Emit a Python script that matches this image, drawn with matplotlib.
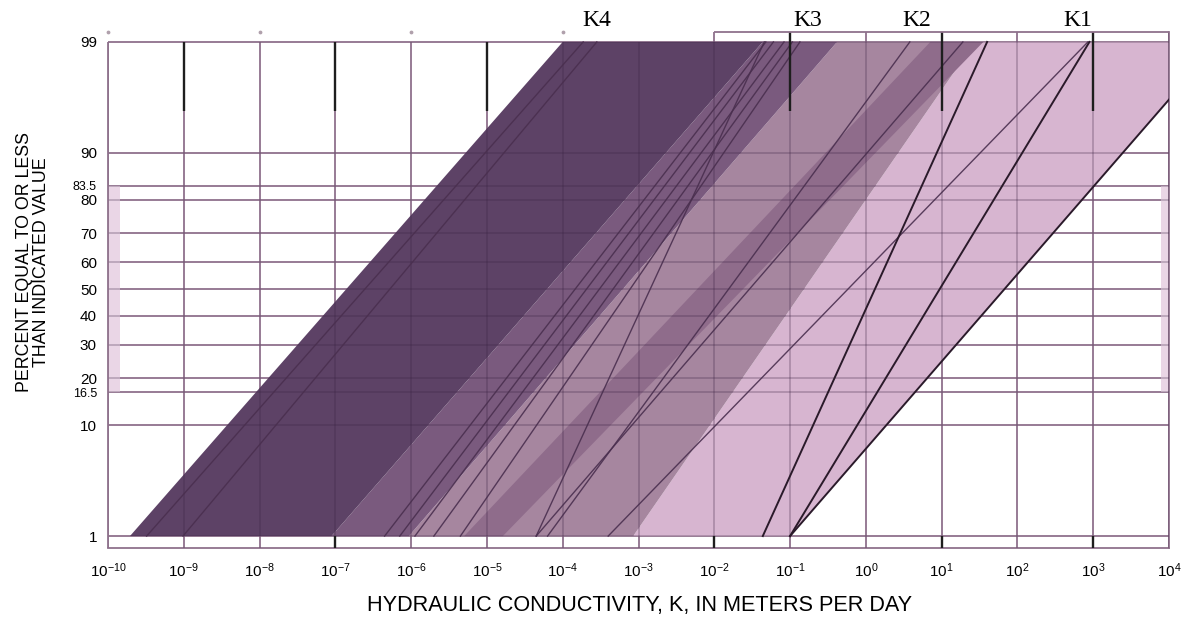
import numpy as np
import matplotlib
matplotlib.use("Agg")
from matplotlib import pyplot as plt
from matplotlib.ticker import FixedLocator, NullLocator, LogLocator
from matplotlib.transforms import blended_transform_factory
from statistics import NormalDist

plt.rcParams['font.family'] = ['Liberation Sans', 'DejaVu Sans']
plt.rcParams['mathtext.fontset'] = 'custom'
plt.rcParams['mathtext.rm'] = 'Liberation Sans'
plt.rcParams['mathtext.it'] = 'Liberation Sans:italic'
plt.rcParams['mathtext.bf'] = 'Liberation Sans:bold'

# ---- data ----
percent_ticks = [1, 10, 16.5, 20, 30, 40, 50, 60, 70, 80, 83.5, 90, 99]
percent_labels = ['1', '10', '16.5', '20', '30', '40', '50', '60', '70', '80', '83.5', '90', '99']
decades = list(range(-10, 5))

class_labels = ['K4', 'K3', 'K2', 'K1']
class_label_logk = [-3.55, -0.77, 0.67, 2.80]

# shaded zones, log10 K of the left / right edge at 1 % and at 99 %
zone_low_left = [-3.07, -6.03, -5.30, -7.05, -9.71]
zone_low_right = [-1.00, -3.07, -4.79, -6.03, -7.05]
zone_high_left = [1.44, -0.38, 0.85, -1.36, -4.00]
zone_high_right = [4.66, 1.44, 1.55, -0.38, -1.36]
zone_colors = ['#d7b5d0', '#a6869f', '#8f6c8b', '#7a5a7e', '#5d4266']

# sample distributions, log10 K at 1 % and at 99 %
sample_low = [-9.49, -9.01, -6.35, -6.15, -5.95, -5.70, -5.35, -4.35, -4.35, -4.20, -3.40]
sample_high = [-3.73, -3.55, -1.32, -1.22, -1.08, -0.97, -0.87, -1.34, 1.28, 0.58, 2.93]
# the darker (black) ones on the right
dark_low = [-1.36, -1.00, -1.00]
dark_high = [1.60, 2.95, 4.66]

# short black segments seen on some decade lines
top_mark_decades = [-9, -7, -5, -1, 1, 3]
bottom_mark_decades = [-7, -2, 1, 3]

# ---- normal probability scale ----
_nd = NormalDist()
_ppf = np.vectorize(lambda v: _nd.inv_cdf(v / 100.0), otypes=[float])
_cdf = np.vectorize(lambda v: 100.0 * _nd.cdf(v), otypes=[float])


def pct_to_z(p):
    p = np.clip(np.asarray(p, dtype=float), 1e-7, 100 - 1e-7)
    return _ppf(p)


def z_to_pct(z):
    return _cdf(np.asarray(z, dtype=float))


W, H = 1193, 618
fig = plt.figure(figsize=(W / 100, H / 100), dpi=100)
ax = fig.add_axes([108 / W, 1 - 548 / H, (1169 - 108) / W, (548 - 32) / H])
ax.set_xscale('log')
ax.set_yscale('function', functions=(pct_to_z, z_to_pct))
y_bot, y_top = 0.737, 99.224
ax.set_xlim(1e-10, 1e4)
ax.set_ylim(y_bot, y_top)

grid_col = '#b293ab'
over_col = '#3c2444'

# grid under the shading
ax.hlines(percent_ticks, 1e-10, 1e4, color=grid_col, lw=1.3, zorder=1)
for d in decades:
    top = 99 if d < -2 else y_top
    ax.vlines(10.0 ** d, y_bot, top, color=grid_col, lw=1.3, zorder=1)

# shaded zones
for i in range(len(zone_colors)):
    xs = 10.0 ** np.array([zone_low_left[i], zone_low_right[i], zone_high_right[i], zone_high_left[i]])
    ax.fill(xs, [1, 1, 99, 99], color=zone_colors[i], lw=0, zorder=2)

# pale strips at both edges
ax.fill(10.0 ** np.array([-10, -9.84, -9.84, -10]), [16.5, 16.5, 83.5, 83.5], color='#ead6e6', lw=0, zorder=1.5)
ax.fill(10.0 ** np.array([3.9, 4.0, 4.0, 3.9]), [16.5, 16.5, 83.5, 83.5], color='#ead6e6', lw=0, zorder=1.5)

# grid again, faint, over the shading
ax.hlines(percent_ticks, 1e-10, 1e4, color=over_col, lw=1.2, alpha=0.3, zorder=3)
for d in decades:
    top = 99 if d < -2 else y_top
    ax.vlines(10.0 ** d, y_bot, top, color=over_col, lw=1.2, alpha=0.3, zorder=3)

# sample lines
for lo, hi in zip(sample_low, sample_high):
    ax.plot([10.0 ** lo, 10.0 ** hi], [1, 99], color='#4a2f4f', lw=1.0, alpha=0.9, zorder=4)
for lo, hi in zip(dark_low, dark_high):
    ax.plot([10.0 ** lo, 10.0 ** hi], [1, 99], color='#2a1a2a', lw=1.4, zorder=4)

# black marks
for d in top_mark_decades:
    top = 99 if d < -2 else y_top
    ax.vlines(10.0 ** d, 95.3, top, color='#1e1e1e', lw=1.7, zorder=5)
for d in bottom_mark_decades:
    ax.vlines(10.0 ** d, y_bot, 1, color='#1e1e1e', lw=1.7, zorder=5)

# frame
for s in ['top', 'left']:
    ax.spines[s].set_visible(False)
for s in ['bottom', 'right']:
    ax.spines[s].set_color('#8f728c')
    ax.spines[s].set_linewidth(1.3)
ax.vlines(1e-10, y_bot, 99, color='#8f728c', lw=1.3, zorder=5, clip_on=False)
ax.hlines(y_top, 1e-2, 1e4, color='#8f728c', lw=1.3, zorder=5, clip_on=False)
ax.scatter(10.0 ** np.array([-10, -8, -6, -4]), [y_top] * 4, s=3, color='#b0a0ac', zorder=5, clip_on=False)

# ticks
ax.xaxis.set_major_locator(LogLocator(base=10, numticks=20))
ax.xaxis.set_minor_locator(NullLocator())
ax.yaxis.set_major_locator(FixedLocator(percent_ticks))
ax.yaxis.set_minor_locator(NullLocator())
ax.set_yticklabels(percent_labels)
ax.tick_params(axis='both', length=0)
ax.tick_params(axis='x', labelsize=11, pad=10)
ax.tick_params(axis='y', labelsize=11, pad=8)
for t in ax.get_yticklabels():
    if '.' in t.get_text():
        t.set_fontsize(9)

# class labels above the frame
tr = blended_transform_factory(ax.transData, ax.transAxes)
for lbl, lk in zip(class_labels, class_label_logk):
    ax.text(10.0 ** lk, 1 + 12 / 516, lbl, transform=tr, ha='center', va='center',
            family=['Liberation Serif', 'DejaVu Serif'], fontsize=17, clip_on=False)

fig.text(640 / W, 1 - 605 / H, 'HYDRAULIC CONDUCTIVITY, K, IN METERS PER DAY',
         ha='center', va='center', fontsize=15.6)
fig.text(33 / W, 1 - 262 / H, 'PERCENT EQUAL TO OR LESS\nTHAN INDICATED VALUE',
         ha='center', va='center', rotation=90, multialignment='center', fontsize=12.8,
         linespacing=1.0)

fig.savefig('out.png', dpi=100)
